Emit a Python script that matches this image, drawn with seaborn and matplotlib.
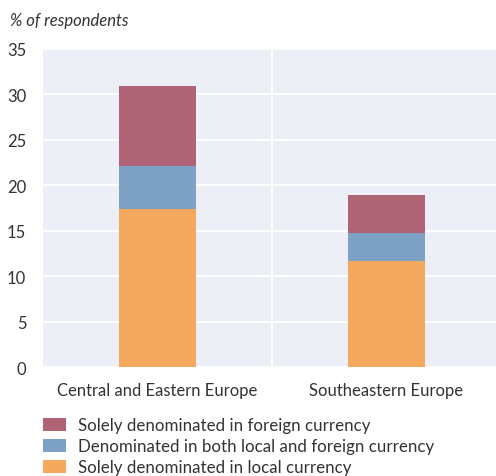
import matplotlib
matplotlib.use("Agg")
import matplotlib.pyplot as plt
import seaborn as sns
import pandas as pd
from matplotlib.patches import Patch

# Data
regions = ["Central and Eastern Europe", "Southeastern Europe"]
local_only = [17.4, 11.7]
both = [4.7, 3.1]
foreign_only = [8.8, 4.1]

series_names = [
    "Solely denominated in foreign currency",
    "Denominated in both local and foreign currency",
    "Solely denominated in local currency",
]
colors = ["#ae6474", "#7ea2c5", "#f4a95f"]

# cumulative heights for stacking
level1 = local_only
level2 = [a + b for a, b in zip(local_only, both)]
level3 = [a + b + c for a, b, c in zip(local_only, both, foreign_only)]

df = pd.DataFrame({"region": regions, "top": level3, "mid": level2, "low": level1})

sns.set_style("darkgrid", {"axes.facecolor": "#eceff6", "grid.color": "white"})
plt.rcParams["font.family"] = ["Lato", "DejaVu Sans"]
text_color = "#333333"

fig = plt.figure(figsize=(4.96, 4.77), dpi=100)
ax = fig.add_axes([0.0867, 0.2285, 0.9133, 0.6667])

for col, c in zip(["top", "mid", "low"], colors):
    sns.barplot(data=df, x="region", y=col, color=c, width=0.336,
                saturation=1, ax=ax, zorder=3, edgecolor="none", linewidth=0)

ax.set_xlim(-0.5, 1.48)
ax.set_ylim(0, 35)
ax.set_yticks(range(0, 36, 5))
ax.axvline(0.5, color="white", linewidth=1.5, zorder=1)
ax.grid(axis="x", visible=False)
ax.grid(axis="y", color="white", linewidth=1.5)
ax.set_xlabel("")
ax.set_ylabel("")
for s in ax.spines.values():
    s.set_visible(False)
ax.tick_params(axis="both", length=0, labelsize=12, colors=text_color, pad=12)
ax.tick_params(axis="x", pad=11)
for lbl in ax.get_yticklabels():
    lbl.set_horizontalalignment("right")

fig.text(0.02, 0.957, "% of respondents", fontsize=12, style="italic",
         color=text_color, va="center", ha="left")

handles = [Patch(facecolor=c, edgecolor="none") for c in colors]
fig.legend(handles, series_names, loc="upper left", bbox_to_anchor=(0.087, 0.123),
           frameon=False, fontsize=12.2, handlelength=1.35, handleheight=0.75,
           handletextpad=0.7, labelspacing=0.3, labelcolor=text_color,
           borderaxespad=0, borderpad=0)

fig.savefig("out.png", dpi=100)
